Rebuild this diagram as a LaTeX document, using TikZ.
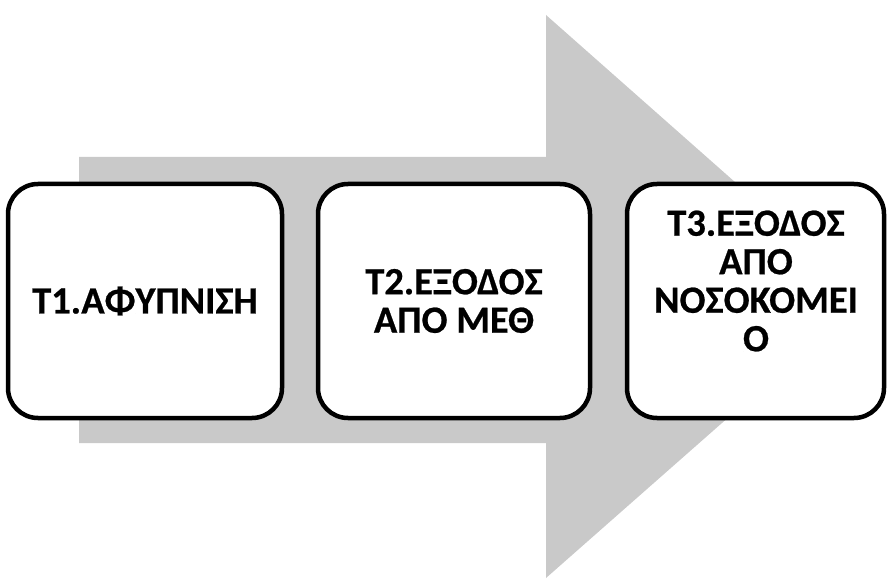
\documentclass[tikz,border=0pt]{standalone}
\usepackage{fontspec}
\setmainfont{Carlito}[BoldFeatures={FakeBold=0.6}]
\begin{document}
\begin{tikzpicture}[x=1pt,y=-1pt,
  stage/.style={draw=black, line width=4.5pt, rounded corners=30pt, fill=white},
  label/.style={font=\bfseries\fontsize{38.5}{38.5}\selectfont, align=center, text=black}]
\useasboundingbox (0,0) rectangle (887,580);
% wide grey arrow behind the stages
\fill[black!21] (79,157) -- (546,157) -- (546,15) -- (865,297) -- (546,578)
  -- (546,443) -- (79,443) -- cycle;
% stages
\draw[stage] (8,184) rectangle (282,418);
\draw[stage] (318,184) rectangle (590,418);
\draw[stage] (627,184) rectangle (884,418);
\node[label] (t1) at (145,301) {T1.ΑΦΥΠΝΙΣΗ};
\node[label] (t2) at (454,301) {T2.ΕΞΟΔΟΣ\\ΑΠΟ ΜΕΘ};
\node[label] (t3) at (756,281) {T3.ΕΞΟΔΟΣ\\ΑΠΟ\\ΝΟΣΟΚΟΜΕΙ\\Ο};
\end{tikzpicture}
\end{document}
